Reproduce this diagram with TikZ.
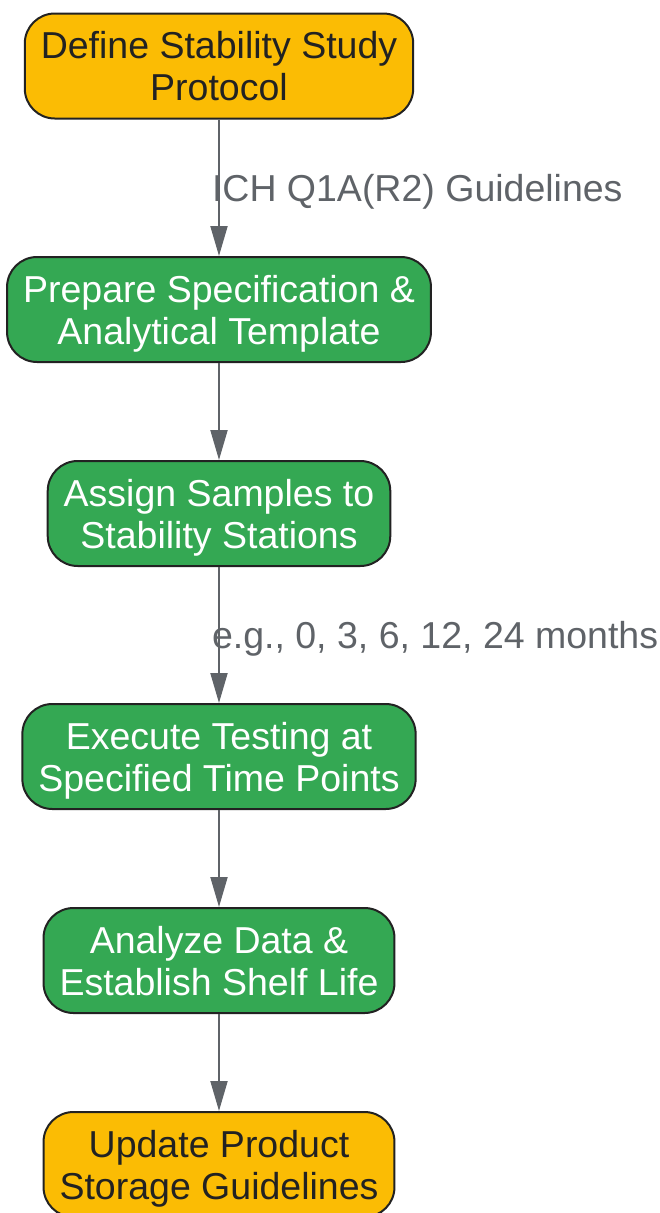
\documentclass[tikz,border=0pt]{standalone}
\usepackage{fontspec}
\setmainfont{Liberation Sans}
\usetikzlibrary{arrows.meta}
\definecolor{stepyellow}{HTML}{FBBC04}
\definecolor{stepgreen}{HTML}{34A853}
\definecolor{edgegray}{HTML}{5F6368}
\definecolor{boxline}{HTML}{222222}

\begin{document}
\begin{tikzpicture}[x=1pt,y=-1pt,
  box/.style={draw=boxline,line width=2pt,rounded corners=30pt,minimum height=105pt,
    inner xsep=16pt,align=center,text depth=0pt,font=\fontsize{37.5}{42}\selectfont},
  yellowbox/.style={box,fill=stepyellow,text=boxline},
  greenbox/.style={box,fill=stepgreen,text=white},
  flow/.style={draw=edgegray,line width=2pt,-{Triangle[length=30pt,width=17pt]}},
  flowlabel/.style={anchor=west,inner sep=0pt,xshift=-8pt,yshift=-4pt,text=edgegray,font=\fontsize{37.5}{42}\selectfont}]
\useasboundingbox (0,0) rectangle (660,1213);
%步骤
\node[yellowbox] (define) at (219,66) {Define Stability Study\\Protocol};
\node[greenbox] (prepare) at (219,309.5) {Prepare Specification \&\\Analytical Template};
\node[greenbox] (assign) at (219,513.5) {Assign Samples to\\Stability Stations};
\node[greenbox] (execute) at (219,756.5) {Execute Testing at\\Specified Time Points};
\node[greenbox] (analyze) at (219,960.5) {Analyze Data \&\\Establish Shelf Life};
\node[yellowbox] (update) at (219,1164.5) {Update Product\\Storage Guidelines};
%箭头
\draw[flow] (define) -- node[flowlabel] {ICH Q1A(R2) Guidelines} (prepare);
\draw[flow] (prepare) -- (assign);
\draw[flow] (assign) -- node[flowlabel] {e.g., 0, 3, 6, 12, 24 months} (execute);
\draw[flow] (execute) -- (analyze);
\draw[flow] (analyze) -- (update);
\end{tikzpicture}
\end{document}
